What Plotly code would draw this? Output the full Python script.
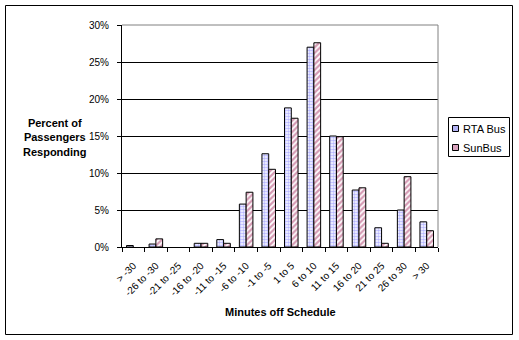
import plotly.graph_objects as go

categories = ["> -30", "-26 to -30", "-21 to -25", "-16 to -20", "-11 to -15",
              "-6 to -10", "-1 to -5", "1 to 5", "6 to 10", "11 to 15",
              "16 to 20", "21 to 25", "26 to 30", "> 30"]
rta_bus = [0.2, 0.4, 0.0, 0.5, 1.0, 5.8, 12.6, 18.8, 27.0, 15.0, 7.7, 2.6, 5.0, 3.4]
sun_bus = [0.0, 1.1, 0.0, 0.5, 0.5, 7.4, 10.5, 17.4, 27.6, 14.9, 8.0, 0.5, 9.5, 2.2]
y_ticks = [0, 5, 10, 15, 20, 25, 30]
y_tick_labels = ["0%", "5%", "10%", "15%", "20%", "25%", "30%"]
series_names = ["RTA Bus", "SunBus"]

W, H = 519, 340
L, R, T, B = 122, 81, 25, 93
PW, PH = W - L - R, H - T - B

def px(x):
    return (x - L) / PW

def py(y):
    return (H - B - y) / PH

def nz(vals):
    # zero-height bars are not drawn in the original
    return [v if v != 0 else None for v in vals]

FONT = "Liberation Sans, Arial, sans-serif"

fig = go.Figure()
fig.add_trace(go.Bar(
    x=categories, y=nz(rta_bus), name=series_names[0],
    marker=dict(color="white", line=dict(color="black", width=1),
                pattern=dict(shape=".", fgcolor="#7070ff", bgcolor="white",
                             size=3, solidity=0.6)),
))
fig.add_trace(go.Bar(
    x=categories, y=nz(sun_bus), name=series_names[1],
    marker=dict(color="white", line=dict(color="black", width=1),
                pattern=dict(shape="/", fgcolor="#aa3366", bgcolor="white",
                             size=4, solidity=0.55)),
))

fig.update_layout(
    width=W, height=H,
    margin=dict(l=L, r=R, t=T, b=B, pad=0),
    paper_bgcolor="white", plot_bgcolor="white",
    barmode="group", bargap=0.4, bargroupgap=0,
    showlegend=False,
    font=dict(family=FONT, size=10, color="black"),
)
fig.update_xaxes(
    type="category", tickson="boundaries", ticks="outside", ticklen=4,
    tickcolor="black", tickwidth=1, tickangle=-45,
    showline=True, linecolor="black", linewidth=1, showgrid=False,
    tickfont=dict(family=FONT, size=10, color="black"),
    ticklabelstandoff=8,
)
fig.update_yaxes(
    range=[0, 30], tickmode="array", tickvals=y_ticks, ticktext=y_tick_labels,
    ticks="outside", ticklen=4, tickcolor="black", showline=True,
    linecolor="black", linewidth=1, showgrid=True, gridcolor="black",
    gridwidth=1, zeroline=False,
    tickfont=dict(family=FONT, size=10, color="black"),
    ticklabelstandoff=6,
)

shapes = []
shapes.append(dict(type="line", xref="paper", yref="paper", x0=0, x1=1, y0=1, y1=1,
                   line=dict(color="#808080", width=1), layer="above"))
shapes.append(dict(type="line", xref="paper", yref="paper", x0=1, x1=1, y0=0, y1=1,
                   line=dict(color="#808080", width=1), layer="above"))
shapes.append(dict(type="rect", xref="paper", yref="paper",
                   x0=px(5.5), x1=px(512.5), y0=py(334.5), y1=py(5.5),
                   line=dict(color="black", width=1), layer="above"))
shapes.append(dict(type="rect", xref="paper", yref="paper",
                   x0=px(448.5), x1=px(509.5), y0=py(156.5), y1=py(117.5),
                   line=dict(color="black", width=1), fillcolor="white", layer="above"))
shapes.append(dict(type="rect", xref="paper", yref="paper",
                   x0=px(452.5), x1=px(458.5), y0=py(131.5), y1=py(125.5),
                   line=dict(color="black", width=1), fillcolor="#b3b3f5", layer="above"))
shapes.append(dict(type="rect", xref="paper", yref="paper",
                   x0=px(452.5), x1=px(458.5), y0=py(150.5), y1=py(144.5),
                   line=dict(color="black", width=1), fillcolor="#d9a3bd", layer="above"))
fig.update_layout(shapes=shapes)

ann = []
ann.append(dict(text=series_names[0], xref="paper", yref="paper", x=px(461), y=py(128.5),
                xanchor="left", yanchor="middle", showarrow=False,
                font=dict(family=FONT, size=11, color="black")))
ann.append(dict(text=series_names[1], xref="paper", yref="paper", x=px(461), y=py(147.5),
                xanchor="left", yanchor="middle", showarrow=False,
                font=dict(family=FONT, size=11, color="black")))
ann.append(dict(text="<b>Minutes off Schedule</b>", xref="paper", yref="paper",
                x=0.5, y=py(312), xanchor="center", yanchor="middle", showarrow=False,
                font=dict(family=FONT, size=11, color="black")))
ann.append(dict(text="<b>Percent of<br>Passengers<br>Responding</b>", xref="paper",
                yref="paper", x=px(55), y=py(137), xanchor="center", yanchor="middle",
                showarrow=False, align="center",
                font=dict(family=FONT, size=11, color="black")))
fig.update_layout(annotations=ann)

fig.write_html("out.html")
